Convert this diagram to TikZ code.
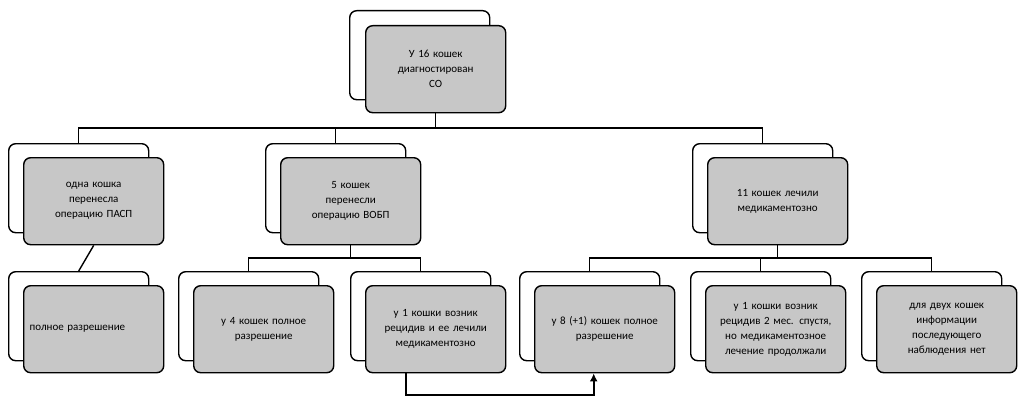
\documentclass[tikz,border=0pt]{standalone}
\usepackage{fontspec}
\setmainfont{Carlito}
\usetikzlibrary{backgrounds,arrows.meta}
\begin{document}
\begin{tikzpicture}[x=1pt,y=-1pt,
  back/.style={draw,line width=1.4pt,rounded corners=7pt,fill=white,minimum width=140pt,minimum height=89pt,anchor=north west},
  front/.style={draw,line width=1.4pt,rounded corners=7pt,fill=black!22,minimum width=140pt,minimum height=87pt,anchor=north west,align=center,font=\fontsize{11}{15}\selectfont,text width=128pt},
  conn/.style={line width=1.4pt}]
\useasboundingbox (0,0) rectangle (1024,404);
\coordinate (h1) at (0,128);
\coordinate (h2) at (0,258);
\coordinate (lo) at (0,395);
\node[back] (b0) at (349,10) {};
\node[front] (f0) at (365,25) {У 16 кошек\\диагностирован\\СО};
\node[back] (b1) at (8,143) {};
\node[back] (b2) at (265,143) {};
\node[back] (b3) at (692,143) {};
\node[front] (f1) at (23,157) {одна кошка\\перенесла\\операцию ПАСП};
\node[front] (f2) at (280,157) {5 кошек\\перенесли\\операцию ВОБП};
\node[front] (f3) at (707,157) {11 кошек лечили\\медикаментозно};
\node[back] (b4) at (8,271) {};
\node[back] (b5) at (178,271) {};
\node[back] (b6) at (350,271) {};
\node[back] (b7) at (519,271) {};
\node[back] (b8) at (690,271) {};
\node[back] (b9) at (861,271) {};
\node[front] (f4) at (23,285) {полное разрешение\hfill\null};
\node[front] (f5) at (193,285) {у 4 кошек полное\\разрешение};
\node[front] (f6) at (365,285) {у 1 кошки возник\\рецидив и ее лечили\\медикаментозно};
\node[front] (f7) at (534,285) {у 8 (+1) кошек полное\\разрешение};
\node[front] (f8) at (705,285) {у 1 кошки возник\\рецидив 2 мес. спустя,\\но медикаментозное\\лечение продолжали};
\node[front] (f9) at (876,285) {для двух кошек\\информации\\последующего\\наблюдения нет};
\begin{pgfonlayer}{background}
\draw[conn] (f0.south) -- (f0.south |- h1);
\draw[conn] (b1.north) -- (b1.north |- h1) -| (b3.north);
\draw[conn] (b2.north) -- (b2.north |- h1);
\draw[conn] (f1.south) -- (b4.north);
\draw[conn] (f2.south) -- (f2.south |- h2);
\draw[conn] (b5.north) -- (b5.north |- h2) -| (b6.north);
\draw[conn] (f3.south) -- (f3.south |- h2);
\draw[conn] (b7.north) -- (b7.north |- h2) -| (b9.north);
\draw[conn] (b8.north) -- (b8.north |- h2);
\end{pgfonlayer}
\draw[line width=2.4pt,-{Latex[length=8pt,width=8pt]}] ([xshift=-30pt]f6.south) -- ([xshift=-30pt]f6.south |- lo) -| ([xshift=-11pt]f7.south);
\end{tikzpicture}
\end{document}
